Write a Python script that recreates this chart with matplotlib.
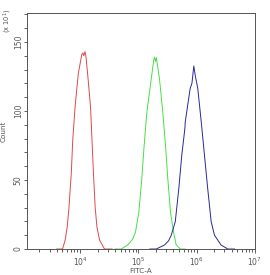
import numpy as np
import matplotlib
matplotlib.use("Agg")
import matplotlib.pyplot as plt
from matplotlib.ticker import LogLocator, MultipleLocator, FixedLocator

# histogram outlines: log10(FITC-A) and count (x10^1)
red_x = [3.60, 3.70, 3.745, 3.78, 3.81, 3.85, 3.875, 3.915, 3.97, 4.03, 4.05,
         4.065, 4.085, 4.10, 4.13, 4.18, 4.205, 4.23, 4.26, 4.29, 4.335, 4.42, 4.55]
red_y = [0, 0, 6.5, 16, 30, 55, 79, 103, 127, 141, 142, 140, 143, 140, 127,
         103, 79, 55, 30, 16, 6.5, 0, 0]

green_x = [4.60, 4.707, 4.82, 4.90, 4.952, 5.009, 5.06, 5.10, 5.146, 5.221,
           5.265, 5.278, 5.295, 5.31, 5.364, 5.42, 5.467, 5.506, 5.552, 5.604,
           5.65, 5.72, 5.80]
green_y = [0, 0, 3, 7, 12.3, 26.8, 51, 75, 99, 123, 137, 139, 136, 138.6, 123,
           99, 75, 51, 26.8, 12.3, 3, 0, 0]

blue_x = [5.20, 5.307, 5.45, 5.52, 5.565, 5.634, 5.695, 5.746, 5.79, 5.80,
          5.805, 5.85, 5.89, 5.92, 5.952, 5.98, 6.02, 6.08, 6.135, 6.19, 6.25,
          6.307, 6.42, 6.535, 6.65]
blue_y = [0, 0, 2.9, 6, 10, 19.8, 43.9, 68, 84, 88, 92, 105, 116.4, 120, 132.6,
          125, 116.4, 92, 68, 44, 19.8, 10, 2.9, 0, 0]

fig = plt.figure(figsize=(2.7, 2.75), dpi=100)
ax = fig.add_axes([0.1, 0.0945, 0.844, 0.8582])

ax.plot(10 ** np.array(red_x), red_y, color="#e04848", lw=0.7)
ax.plot(10 ** np.array(green_x), green_y, color="#44e044", lw=0.7)
ax.plot(10 ** np.array(blue_x), blue_y, color="#28289a", lw=0.7)

ax.set_xscale("log")
ax.set_xlim(10 ** 3.09, 10 ** 7)
ax.set_ylim(0, 171)

ax.xaxis.set_major_locator(FixedLocator([1e4, 1e5, 1e6, 1e7]))
ax.xaxis.set_minor_locator(LogLocator(base=10, subs=np.arange(2, 10), numticks=20))
ax.yaxis.set_major_locator(MultipleLocator(50))
ax.yaxis.set_minor_locator(MultipleLocator(10))

ax.tick_params(axis="both", which="both", direction="out", colors="#444444",
               labelsize=5.5, labelcolor="#555555", width=0.6)
ax.tick_params(axis="x", which="major", length=2.9, pad=1.5)
ax.tick_params(axis="x", which="minor", length=1.8)
ax.tick_params(axis="y", which="both", length=2.2, pad=0.8)
plt.setp(ax.get_yticklabels(), rotation=90, va="center")

for s in ax.spines.values():
    s.set_color("#555555")
    s.set_linewidth(0.7)

ax.set_xlabel("FITC-A", fontsize=5.2, color="#555555", labelpad=0)
ax.set_ylabel("Count", fontsize=5.2, color="#555555")
ax.yaxis.set_label_coords(-0.088, 0.5)
fig.text(0.028, 0.925, "(x 10$^1$)", fontsize=4.8, color="#555555",
         rotation=90, ha="center", va="center")

fig.savefig("out.png", dpi=100)
